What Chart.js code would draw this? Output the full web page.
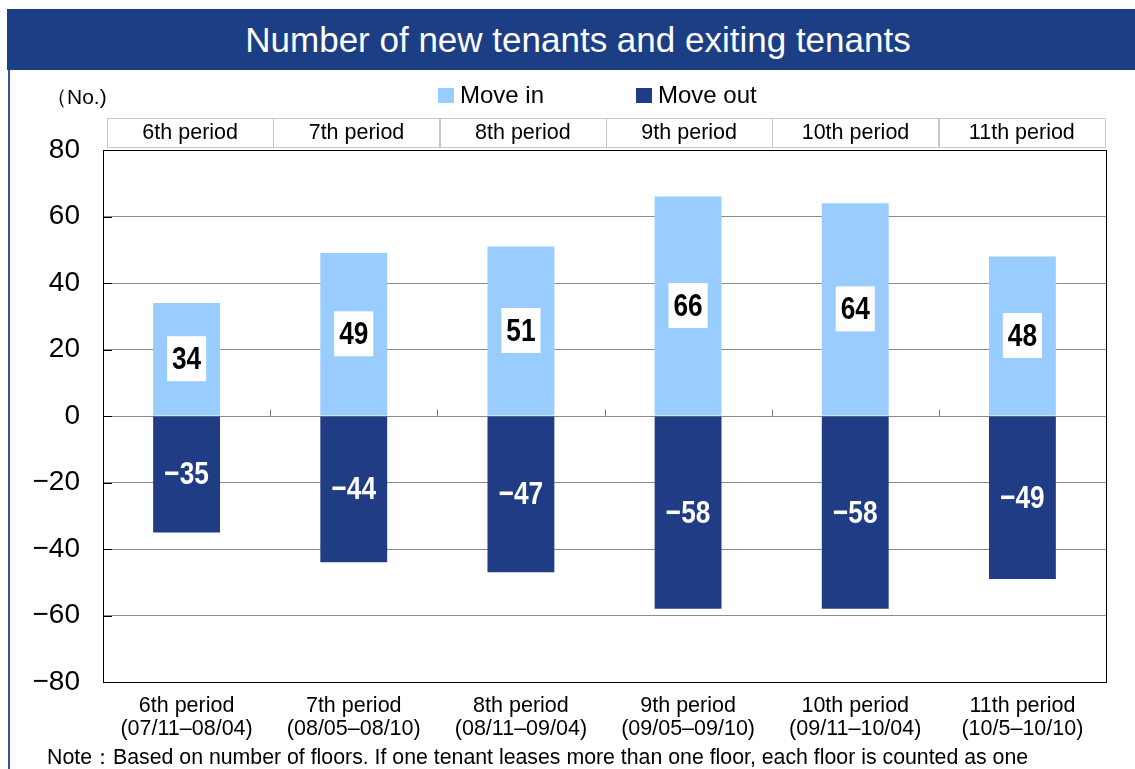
<!DOCTYPE html>
<html>
<head>
<meta charset="utf-8">
<script src="https://cdn.jsdelivr.net/npm/chart.js@4.4.1/dist/chart.umd.min.js"></script>
<style>
  html, body { margin: 0; padding: 0; background: #fff; }
  body { width: 1135px; height: 769px; position: relative; overflow: hidden; font-family: "Liberation Sans", Arial, sans-serif; }
  #wrap { position: absolute; left: 0; top: 0; width: 1135px; height: 769px; }
  .title { position: absolute; left: 7px; top: 9px; width: 1128px; height: 61px; background: #1b3e85; color: #fff;
    font-size: 35px; line-height: 61px; text-align: center; box-sizing: border-box; padding-left: 14px; }
  .leftline { position: absolute; left: 8px; top: 70px; width: 2px; height: 699px; background: #2f5597; }
  .unit { position: absolute; left: 46px; top: 83px; font-size: 21px; }
  .legend { position: absolute; top: 81px; font-size: 24px; display: flex; align-items: center; }
  .legend i { display: inline-block; width: 16px; height: 15px; margin-right: 6px; }
  .note { position: absolute; left: 47px; top: 742px; font-size: 21.3px; white-space: nowrap; }
</style>
</head>
<body>
<div id="wrap"><canvas id="chart" width="1135" height="769"></canvas></div>
<div class="title">Number of new tenants and exiting tenants</div>
<div class="leftline"></div>
<div class="unit">（No.)</div>
<div class="legend" style="left:438px"><i style="background:#99ccff"></i>Move in</div>
<div class="legend" style="left:636px"><i style="background:#1f3c84"></i>Move out</div>
<div class="note">Note：Based on number of floors. If one tenant leases more than one floor, each floor is counted as one</div>
<script>
const periods = ['6th period', '7th period', '8th period', '9th period', '10th period', '11th period'];
const ranges = ['(07/11–08/04)', '(08/05–08/10)', '(08/11–09/04)', '(09/05–09/10)', '(09/11–10/04)', '(10/5–10/10)'];
const moveIn = [34, 49, 51, 66, 64, 48];
const moveOut = [-35, -44, -47, -58, -58, -49];

const LABEL_FONT = 'bold 32px "Liberation Sans", Arial, sans-serif';
const NARROW = 0.82;

const frameAndHeader = {
  id: 'frameAndHeader',
  afterDraw(c) {
    const { ctx, chartArea: { left, right, top, bottom } } = c;
    const ys = c.scales.y;
    const cell = (right - left) / periods.length;
    ctx.save();
    // plot border
    ctx.strokeStyle = '#000';
    ctx.lineWidth = 1;
    ctx.strokeRect(left + 0.5, top + 0.5, right - left, bottom - top);
    // small ticks inside the y axis
    ys.ticks.forEach(t => {
      const y = Math.round(ys.getPixelForValue(t.value)) + 0.5;
      ctx.beginPath();
      ctx.moveTo(left, y);
      ctx.lineTo(left + 9, y);
      ctx.stroke();
    });
    // ticks on the zero line between categories
    const y0 = Math.round(ys.getPixelForValue(0)) + 0.5;
    ctx.strokeStyle = '#777';
    for (let i = 1; i < periods.length; i++) {
      const x = Math.round(left + cell * i) + 0.5;
      ctx.beginPath();
      ctx.moveTo(x, y0);
      ctx.lineTo(x, y0 - 7);
      ctx.stroke();
    }
    // header row of period names
    const hTop = 118, hH = 29, hLeft = left + 4, hRight = right - 1;
    const hCell = (hRight - hLeft) / periods.length;
    ctx.strokeStyle = '#c8c8c8';
    ctx.fillStyle = '#000';
    ctx.font = '21.5px "Liberation Sans", Arial, sans-serif';
    ctx.textAlign = 'center';
    ctx.textBaseline = 'middle';
    periods.forEach((p, i) => {
      const x0 = hLeft + hCell * i;
      ctx.strokeRect(Math.round(x0) + 0.5, hTop + 0.5, Math.round(hCell), hH);
      ctx.fillText(p, x0 + hCell / 2, hTop + hH / 2 + 1);
    });
    ctx.restore();
  }
};

const barLabels = {
  id: 'barLabels',
  afterDatasetsDraw(c) {
    const { ctx } = c;
    ctx.save();
    ctx.font = LABEL_FONT;
    ctx.textAlign = 'center';
    ctx.textBaseline = 'middle';
    c.data.datasets.forEach((ds, di) => {
      c.getDatasetMeta(di).data.forEach((bar, i) => {
        const v = ds.data[i];
        const txt = String(v).replace('-', '−');
        const cy = (bar.y + bar.base) / 2;
        if (di === 0) {
          const w = ctx.measureText(txt).width * NARROW + 10;
          ctx.fillStyle = '#fff';
          ctx.fillRect(bar.x - w / 2, cy - 23, w, 45);
          ctx.fillStyle = '#000';
        } else {
          ctx.fillStyle = '#fff';
        }
        ctx.save();
        ctx.translate(bar.x, cy + 1);
        ctx.scale(NARROW, 1);
        ctx.fillText(txt, 0, 0);
        ctx.restore();
      });
    });
    ctx.restore();
  }
};

new Chart(document.getElementById('chart'), {
  type: 'bar',
  data: {
    labels: periods.map((p, i) => [p, ranges[i]]),
    datasets: [
      { label: 'Move in', data: moveIn, backgroundColor: '#99ccff' },
      { label: 'Move out', data: moveOut, backgroundColor: '#1f3c84' }
    ]
  },
  options: {
    responsive: false,
    animation: false,
    layout: { padding: { top: 150, left: 0, right: 29, bottom: 0 } },
    datasets: { bar: { barPercentage: 0.4, categoryPercentage: 1 } },
    plugins: { legend: { display: false }, tooltip: { enabled: false } },
    scales: {
      x: {
        stacked: true,
        grid: { display: false },
        border: { display: true, color: '#000' },
        ticks: { color: '#000', padding: 4, font: { size: 21.5, family: '"Liberation Sans", Arial, sans-serif', lineHeight: 1.08 }, maxRotation: 0 },
        afterFit(s) { s.height = 87; }
      },
      y: {
        stacked: true,
        min: -80,
        max: 80,
        grid: { color: '#8c8c8c', drawTicks: false },
        border: { display: true, color: '#000' },
        ticks: {
          stepSize: 20,
          color: '#000',
          padding: 23,
          font: { size: 28, family: '"Liberation Sans", Arial, sans-serif' },
          callback: v => String(v).replace('-', '−')
        },
        afterFit(s) { s.width = 103; }
      }
    }
  },
  plugins: [frameAndHeader, barLabels]
});
</script>
</body>
</html>
